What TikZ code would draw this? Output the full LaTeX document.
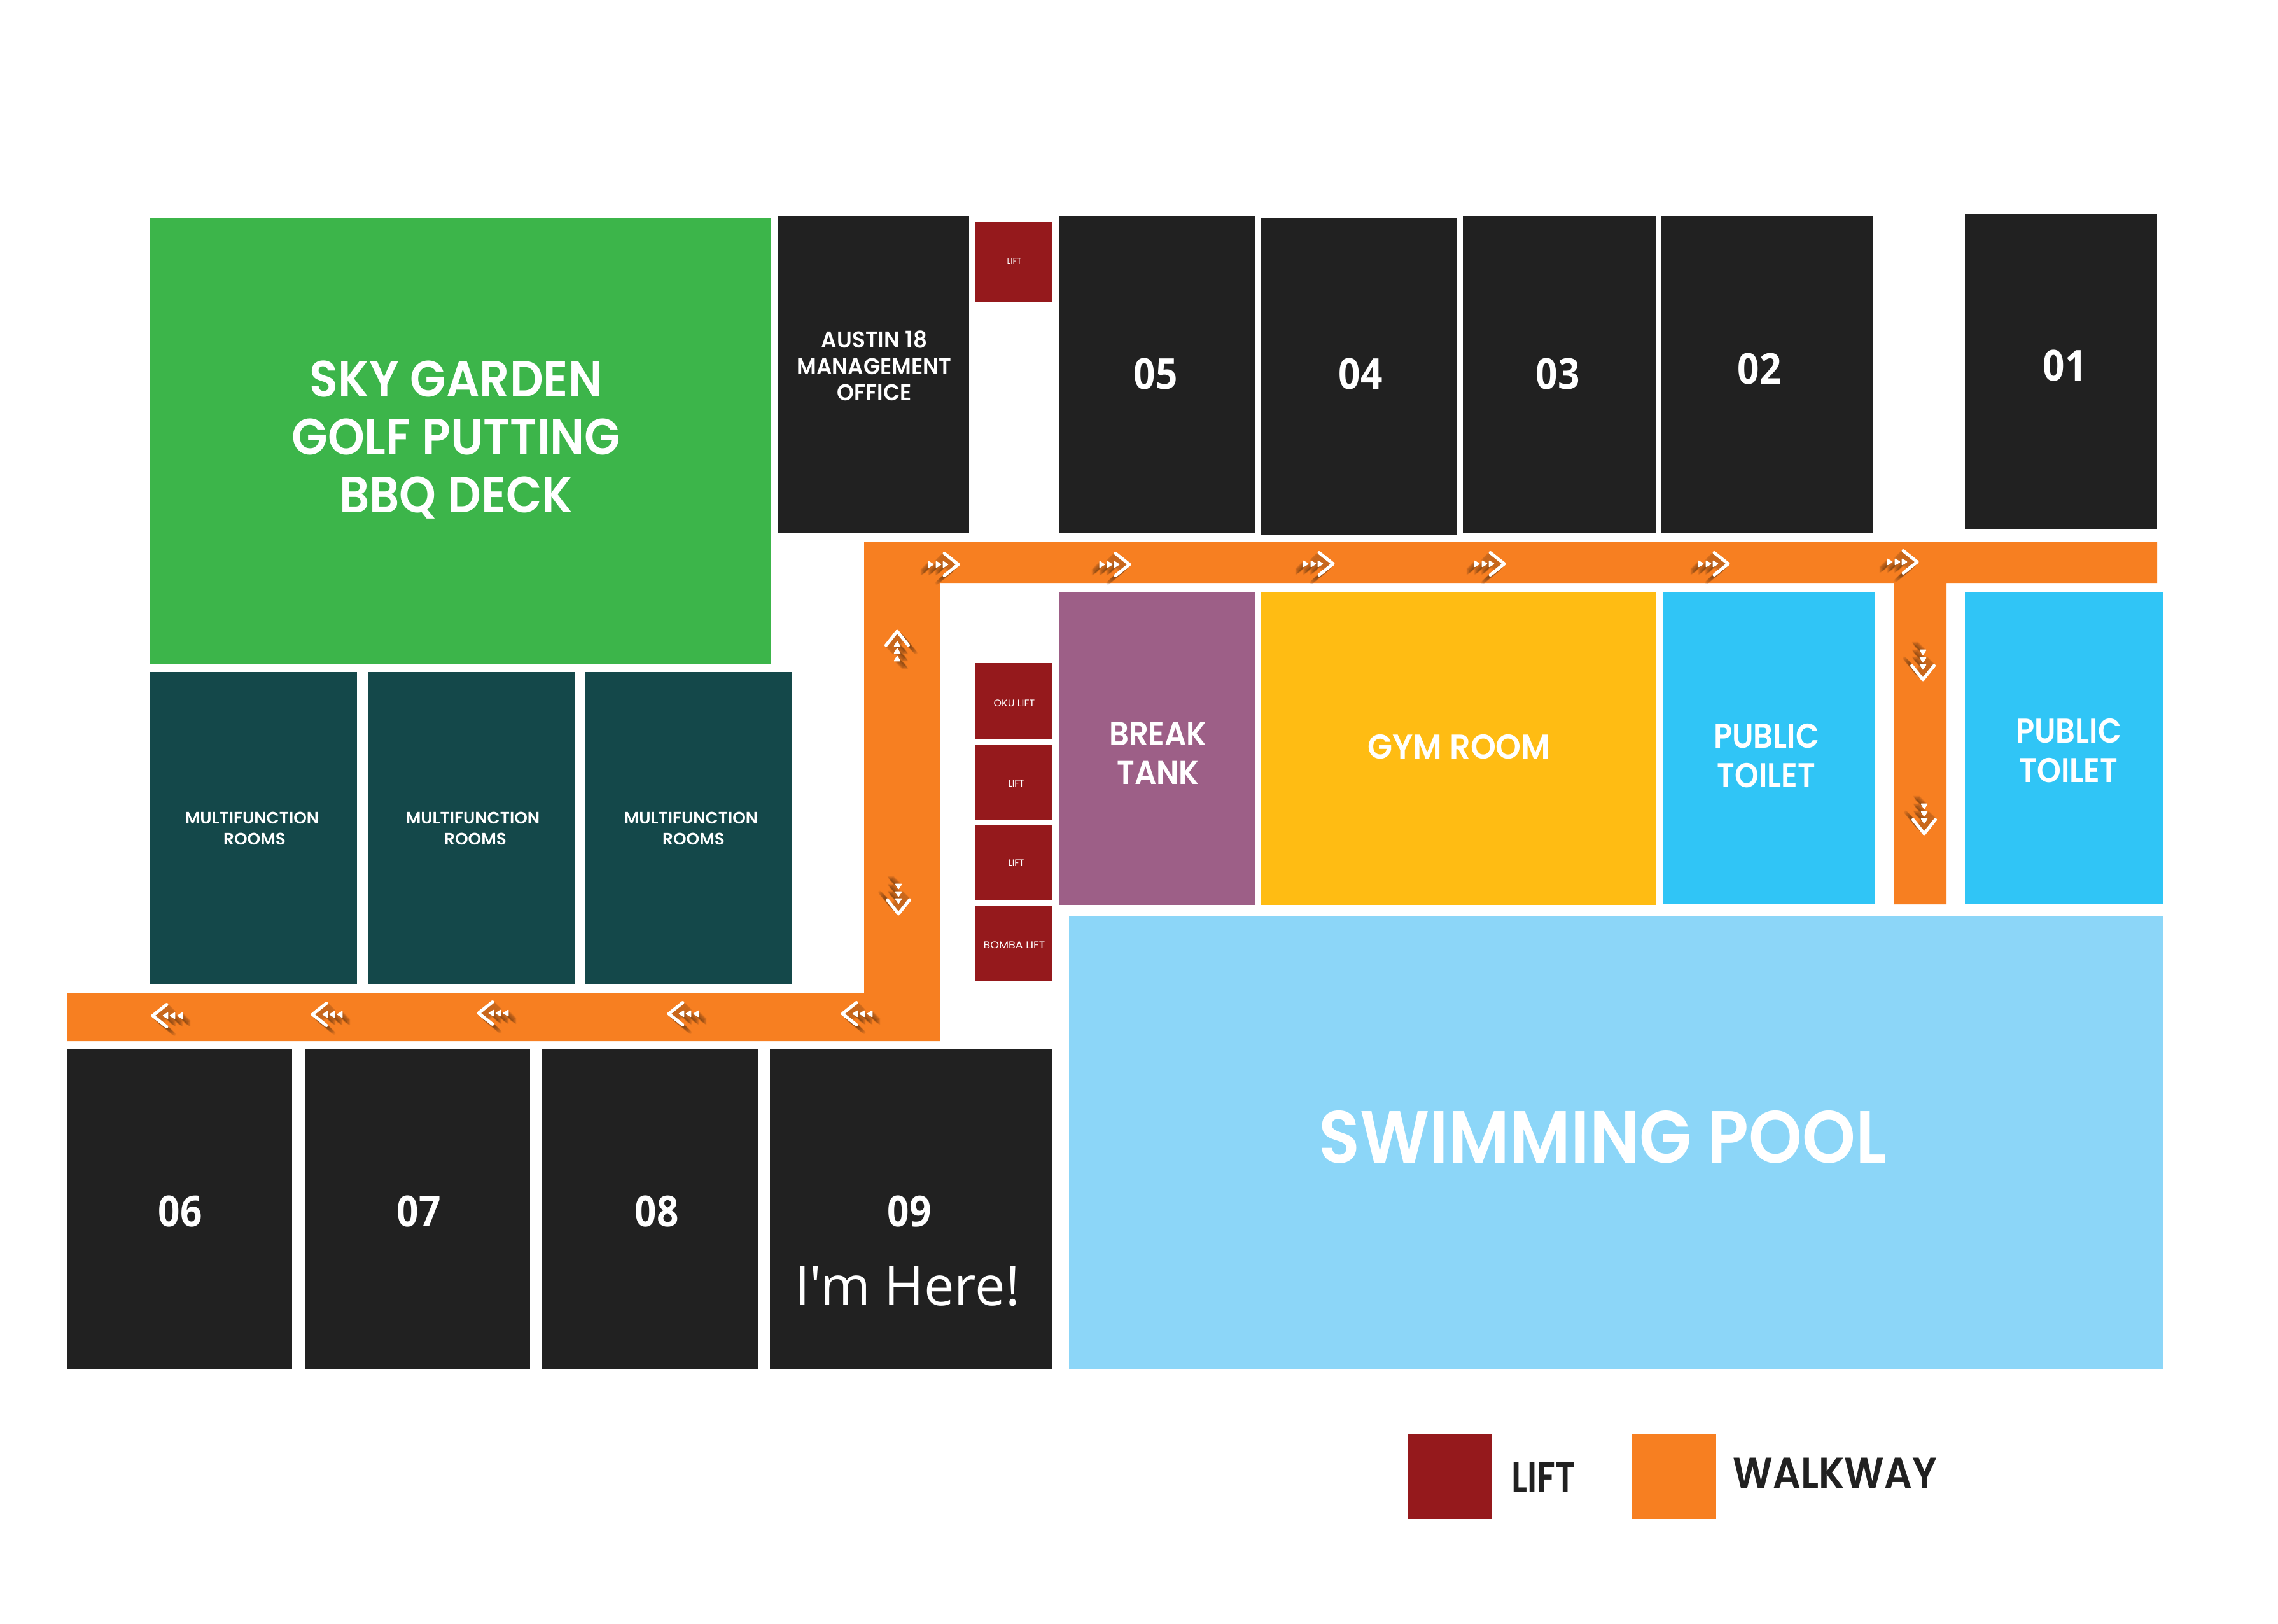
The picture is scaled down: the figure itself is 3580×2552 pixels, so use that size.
\documentclass[tikz,border=0pt]{standalone}
\usepackage{fontspec}
\usepackage{graphicx}
\setmainfont{Poppins}
\newfontfamily\psemi{Poppins SemiBold}
\newfontfamily\opens{Open Sans}
\newcommand\openb{\opens\bfseries}
\definecolor{cgreen}{HTML}{3CB54A}
\definecolor{cteal}{HTML}{14484A}
\definecolor{cdark}{HTML}{212121}
\definecolor{cred}{HTML}{95191C}
\definecolor{cpurple}{HTML}{9D5F87}
\definecolor{cyellow}{HTML}{FFBC13}
\definecolor{ctoilet}{HTML}{30C5F6}
\definecolor{cpool}{HTML}{8CD6F8}
\definecolor{corange}{HTML}{F77F21}
\definecolor{cshade}{HTML}{5E3414}
% name, x, y, family, size(pt), leading(pt), xscale, colour, text
\newcommand\lbl[9]{\node[text=#8,inner sep=0pt,anchor=center] (#1) at (#2,#3)
  {\fontsize{#5}{#6}#4\selectfont\scalebox{#7}[1]{\begin{tabular}{@{}c@{}}#9\end{tabular}}};}
% the chevron and its three small triangles, tip at the origin
\newcommand\arrowglyph[2]{%
  \draw[draw=#1,draw opacity=#2,line width=2.5pt,line cap=round,line join=round]
    (-25,-17.5) -- (-3,0) -- (-25,17.5);
  \foreach \b in {-50,-38,-27}{
    \filldraw[draw=#1,fill=#1,draw opacity=#2,fill opacity=#2,line width=.8pt,line join=round]
      (\b+.5,-4.5) -- (\b+7.5,0) -- (\b+.5,4.5) -- cycle;
  }%
}
\tikzset{
  pics/walkarrow/.style n args={3}{code={
    \foreach \k in {1,...,12}{
      \begin{scope}[shift={({#2*\k},{#3*\k})},rotate=#1]
        \arrowglyph{cshade}{.09}
      \end{scope}
    }
    \begin{scope}[rotate=#1]
      \arrowglyph{white}{1}
    \end{scope}
  }}
}
\begin{document}
\begin{tikzpicture}[x=.5pt,y=-.5pt]
\useasboundingbox (0,0) rectangle (3580,2552);
% rooms
\fill[cgreen] (236,342) rectangle (1212,1044);
\fill[cdark] (1222,340) rectangle (1523,837);
\fill[cred] (1533,349) rectangle (1654,474);
\fill[cdark] (1664,340) rectangle (1973,838);
\fill[cdark] (1982,342) rectangle (2290,840);
\fill[cdark] (2299,340) rectangle (2603,838);
\fill[cdark] (2610,340) rectangle (2943,837);
\fill[cdark] (3088,336) rectangle (3390,831);
\fill[cteal] (236,1056) rectangle (561,1546);
\fill[cteal] (578,1056) rectangle (903,1546);
\fill[cteal] (919,1056) rectangle (1244,1546);
\fill[cred] (1533,1042) rectangle (1654,1161);
\fill[cred] (1533,1170) rectangle (1654,1289);
\fill[cred] (1533,1296) rectangle (1654,1415);
\fill[cred] (1533,1423) rectangle (1654,1541);
\fill[cpurple] (1664,931) rectangle (1973,1422);
\fill[cyellow] (1982,931) rectangle (2603,1422);
\fill[ctoilet] (2614,931) rectangle (2947,1421);
\fill[ctoilet] (3088,931) rectangle (3400,1421);
\fill[cpool] (1680,1439) rectangle (3400,2151);
\fill[cdark] (106,1649) rectangle (459,2151);
\fill[cdark] (479,1649) rectangle (833,2151);
\fill[cdark] (852,1649) rectangle (1192,2151);
\fill[cdark] (1210,1649) rectangle (1653,2151);
% walkway
\fill[corange] (106,1560) -- (1358,1560) -- (1358,851) -- (3390,851) -- (3390,916)
  -- (3059,916) -- (3059,1421) -- (2976,1421) -- (2976,916) -- (1477,916) -- (1477,1636) -- (106,1636) -- cycle;
% legend
\fill[cred] (2212,2253) rectangle (2345,2387);
\fill[corange] (2564,2253) rectangle (2697,2387);
% arrows
\pic at (1509,887) {walkarrow={0}{-1}{1}};
\pic at (1778,887) {walkarrow={0}{-1}{1}};
\pic at (2098,886) {walkarrow={0}{-1}{1}};
\pic at (2367,886) {walkarrow={0}{-1}{1}};
\pic at (2719,886) {walkarrow={0}{-1}{1}};
\pic at (3016,883) {walkarrow={0}{-1}{1}};
\pic at (1410,989) {walkarrow={90}{1}{1}};
\pic at (1412,1439) {walkarrow={-90}{-1}{-1}};
\pic at (3022,1071) {walkarrow={-90}{-1}{-1}};
\pic at (3024,1313) {walkarrow={-90}{-1}{-1}};
\pic at (237,1596) {walkarrow={180}{1}{1}};
\pic at (488,1594) {walkarrow={180}{1}{1}};
\pic at (749,1592) {walkarrow={180}{1}{1}};
\pic at (1048,1593) {walkarrow={180}{1}{1}};
\pic at (1321,1593) {walkarrow={180}{1}{1}};
% labels
\lbl{sky}{717}{696}{\psemi}{40}{45.5}{.92}{white}{SKY GARDEN\\GOLF PUTTING\\BBQ DECK}
\lbl{office}{1374}{580}{\psemi}{18}{20.7}{.95}{white}{AUSTIN 18\\MANAGEMENT\\OFFICE}
\lbl{multa}{396}{1304}{\psemi}{13}{16.5}{1.01}{white}{MULTIFUNCTION\\\hspace*{4pt}ROOMS}
\lbl{multb}{743}{1304}{\psemi}{13}{16.5}{1.01}{white}{MULTIFUNCTION\\\hspace*{4pt}ROOMS}
\lbl{multc}{1086}{1304}{\psemi}{13}{16.5}{1.01}{white}{MULTIFUNCTION\\\hspace*{4pt}ROOMS}
\lbl{toplift}{1594}{412}{}{7}{8}{.95}{white}{LIFT}
\lbl{oku}{1594}{1107}{}{7.6}{9}{1.05}{white}{OKU LIFT}
\lbl{lifta}{1597}{1233}{}{7.6}{9}{.95}{white}{LIFT}
\lbl{liftb}{1597}{1358}{}{7.6}{9}{.95}{white}{LIFT}
\lbl{bomba}{1594}{1487}{}{7.6}{9}{1.15}{white}{BOMBA LIFT}
\lbl{break}{1820}{1190}{\psemi}{26}{30.5}{.925}{white}{BREAK\\TANK}
\lbl{gym}{2293}{1180}{\psemi}{27}{32}{.94}{white}{GYM ROOM}
\lbl{toila}{2776}{1194}{\psemi}{27}{30.8}{.89}{white}{PUBLIC\\TOILET}
\lbl{toilb}{3251}{1186}{\psemi}{27}{30.8}{.89}{white}{PUBLIC\\TOILET}
\lbl{pool}{2519}{1799}{\psemi}{58}{70}{.92}{white}{SWIMMING POOL}
\lbl{n05}{1816}{595}{\openb}{33.5}{40}{.9}{white}{05}
\lbl{n04}{2138}{595}{\openb}{33.5}{40}{.9}{white}{04}
\lbl{n03}{2448}{595}{\openb}{33.5}{40}{.9}{white}{03}
\lbl{n02}{2765}{587}{\openb}{33.5}{40}{.9}{white}{02}
\lbl{n01}{3245}{582}{\openb}{33.5}{40}{.9}{white}{01}
\lbl{n06}{283}{1911}{\openb}{33.5}{40}{.9}{white}{06}
\lbl{n07}{658}{1911}{\openb}{33.5}{40}{.9}{white}{07}
\lbl{n08}{1032}{1911}{\openb}{33.5}{40}{.9}{white}{08}
\lbl{n09}{1429}{1911}{\openb}{33.5}{40}{.9}{white}{09}
\lbl{here}{1426}{2031}{\opens}{43}{51}{.985}{white}{I'm Here!}
\lbl{llift}{2426}{2329}{\psemi}{34}{40}{.8}{cdark}{LIFT}
\lbl{lwalk}{2884}{2322}{\psemi}{34}{40}{.9}{cdark}{WALKWAY}
\end{tikzpicture}
\end{document}
